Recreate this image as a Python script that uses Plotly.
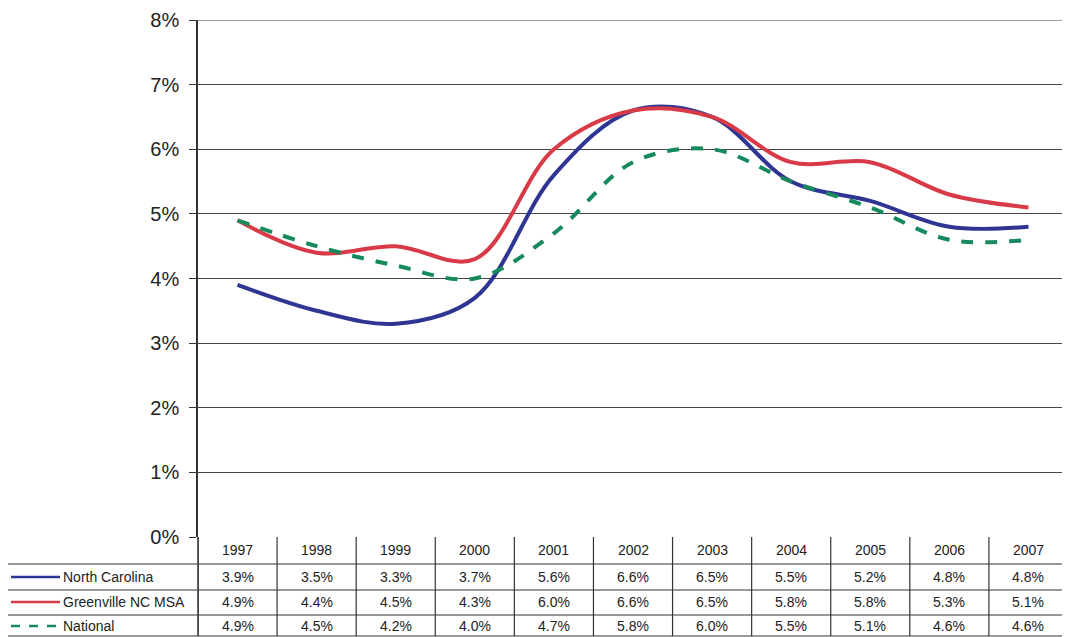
import plotly.graph_objects as go

years = ["1997", "1998", "1999", "2000", "2001", "2002", "2003", "2004", "2005", "2006", "2007"]
north_carolina = [3.9, 3.5, 3.3, 3.7, 5.6, 6.6, 6.5, 5.5, 5.2, 4.8, 4.8]
greenville = [4.9, 4.4, 4.5, 4.3, 6.0, 6.6, 6.5, 5.8, 5.8, 5.3, 5.1]
national = [4.9, 4.5, 4.2, 4.0, 4.7, 5.8, 6.0, 5.5, 5.1, 4.6, 4.6]
series_names = ["North Carolina", "Greenville NC MSA", "National"]
y_ticks = [0, 1, 2, 3, 4, 5, 6, 7, 8]

# page body has an 8px margin; compensate so the drawing lands at the reference pixels
OFF = 8
PLOT_TOP = 20  # page pixel row of the 8% line (kept low enough for its label to fit)
W, H = 1070 - OFF, 637 - OFF
L, R, T = 198 - OFF, 2, PLOT_TOP - OFF
B = H - (537 - OFF)
plot_h = H - T - B
plot_w = W - L - R

def py(pix):  # page pixel row -> paper y
    return (537 - pix) / plot_h

def px(pix):  # page pixel column -> paper x
    return (pix - 198) / plot_w

colors = ["#2f3592", "#d83b47", "#168a5c"]
dashes = ["solid", "solid", "dash"]
series = [north_carolina, greenville, national]

fig = go.Figure()
for name, vals, c, d in zip(series_names, series, colors, dashes):
    fig.add_trace(go.Scatter(
        x=years, y=vals, mode="lines", name=name,
        line=dict(color=c, width=4, dash=d, shape="spline", smoothing=1.0),
        hoverinfo="skip", showlegend=False))

shapes = []
ann = []
line_col = "#333333"
shapes.append(dict(type="line", xref="paper", yref="y", x0=0, x1=1, y0=y_ticks[-1], y1=y_ticks[-1],
                   line=dict(color="#444444", width=1)))
row_lines = [537, 564, 590, 615, 636]
header_c = 550
row_c = [577, 602, 626]
for i in range(len(years) + 1):
    xv = i - 0.5
    shapes.append(dict(type="line", xref="x", yref="paper", x0=xv, x1=xv,
                       y0=py(537), y1=py(636), line=dict(color=line_col, width=1.2)))
for r in row_lines[1:]:
    shapes.append(dict(type="line", xref="paper", yref="paper", x0=px(6), x1=1,
                       y0=py(r), y1=py(r), line=dict(color=line_col, width=1.2)))
shapes.append(dict(type="line", xref="paper", yref="paper", x0=px(6), x1=px(6),
                   y0=py(564), y1=py(636), line=dict(color=line_col, width=1.2)))
shapes.append(dict(type="line", xref="paper", yref="paper", x0=0, x1=0,
                   y0=py(537), y1=py(636), line=dict(color=line_col, width=1.5)))

for i, y in enumerate(years):
    ann.append(dict(x=i, y=py(header_c), xref="x", yref="paper", text=y,
                    xanchor="center", yanchor="middle",
                    showarrow=False, font=dict(size=14, color="#222")))
for r, vals in enumerate(series):
    for i, v in enumerate(vals):
        ann.append(dict(x=i, y=py(row_c[r]), xref="x", yref="paper",
                        text=f"{v:.1f}%", xanchor="center", yanchor="middle",
                        showarrow=False, font=dict(size=14, color="#222")))
    shapes.append(dict(type="line", xref="paper", yref="paper", x0=px(11), x1=px(60),
                       y0=py(row_c[r]), y1=py(row_c[r]),
                       line=dict(color=colors[r], width=2.5, dash=dashes[r])))
    ann.append(dict(x=px(61), y=py(row_c[r]), xref="paper", yref="paper",
                    text=series_names[r], showarrow=False, xanchor="left", yanchor="middle",
                    font=dict(size=14, color="#222")))

fig.update_layout(
    width=W, height=H,
    margin=dict(l=L, r=R, t=T, b=B, autoexpand=False),
    paper_bgcolor="white", plot_bgcolor="white",
    font=dict(family="Liberation Sans, Arial, sans-serif"),
    shapes=shapes, annotations=ann,
    xaxis=dict(type="category", range=[-0.5, 10.5], showticklabels=False,
               showgrid=False, zeroline=False, showline=False, ticks=""),
    yaxis=dict(range=[0, 8], tickvals=y_ticks, ticktext=[f"{v}%" for v in y_ticks],
               showgrid=True, gridcolor="#444444", gridwidth=1,
               showline=True, linecolor=line_col, linewidth=1.5,
               ticks="outside", ticklen=7, tickcolor=line_col, ticklabelstandoff=6,
               ticklabeloverflow="allow",
               tickfont=dict(size=20, color="#222"), zeroline=False),
)

fig.write_html("out.html")
